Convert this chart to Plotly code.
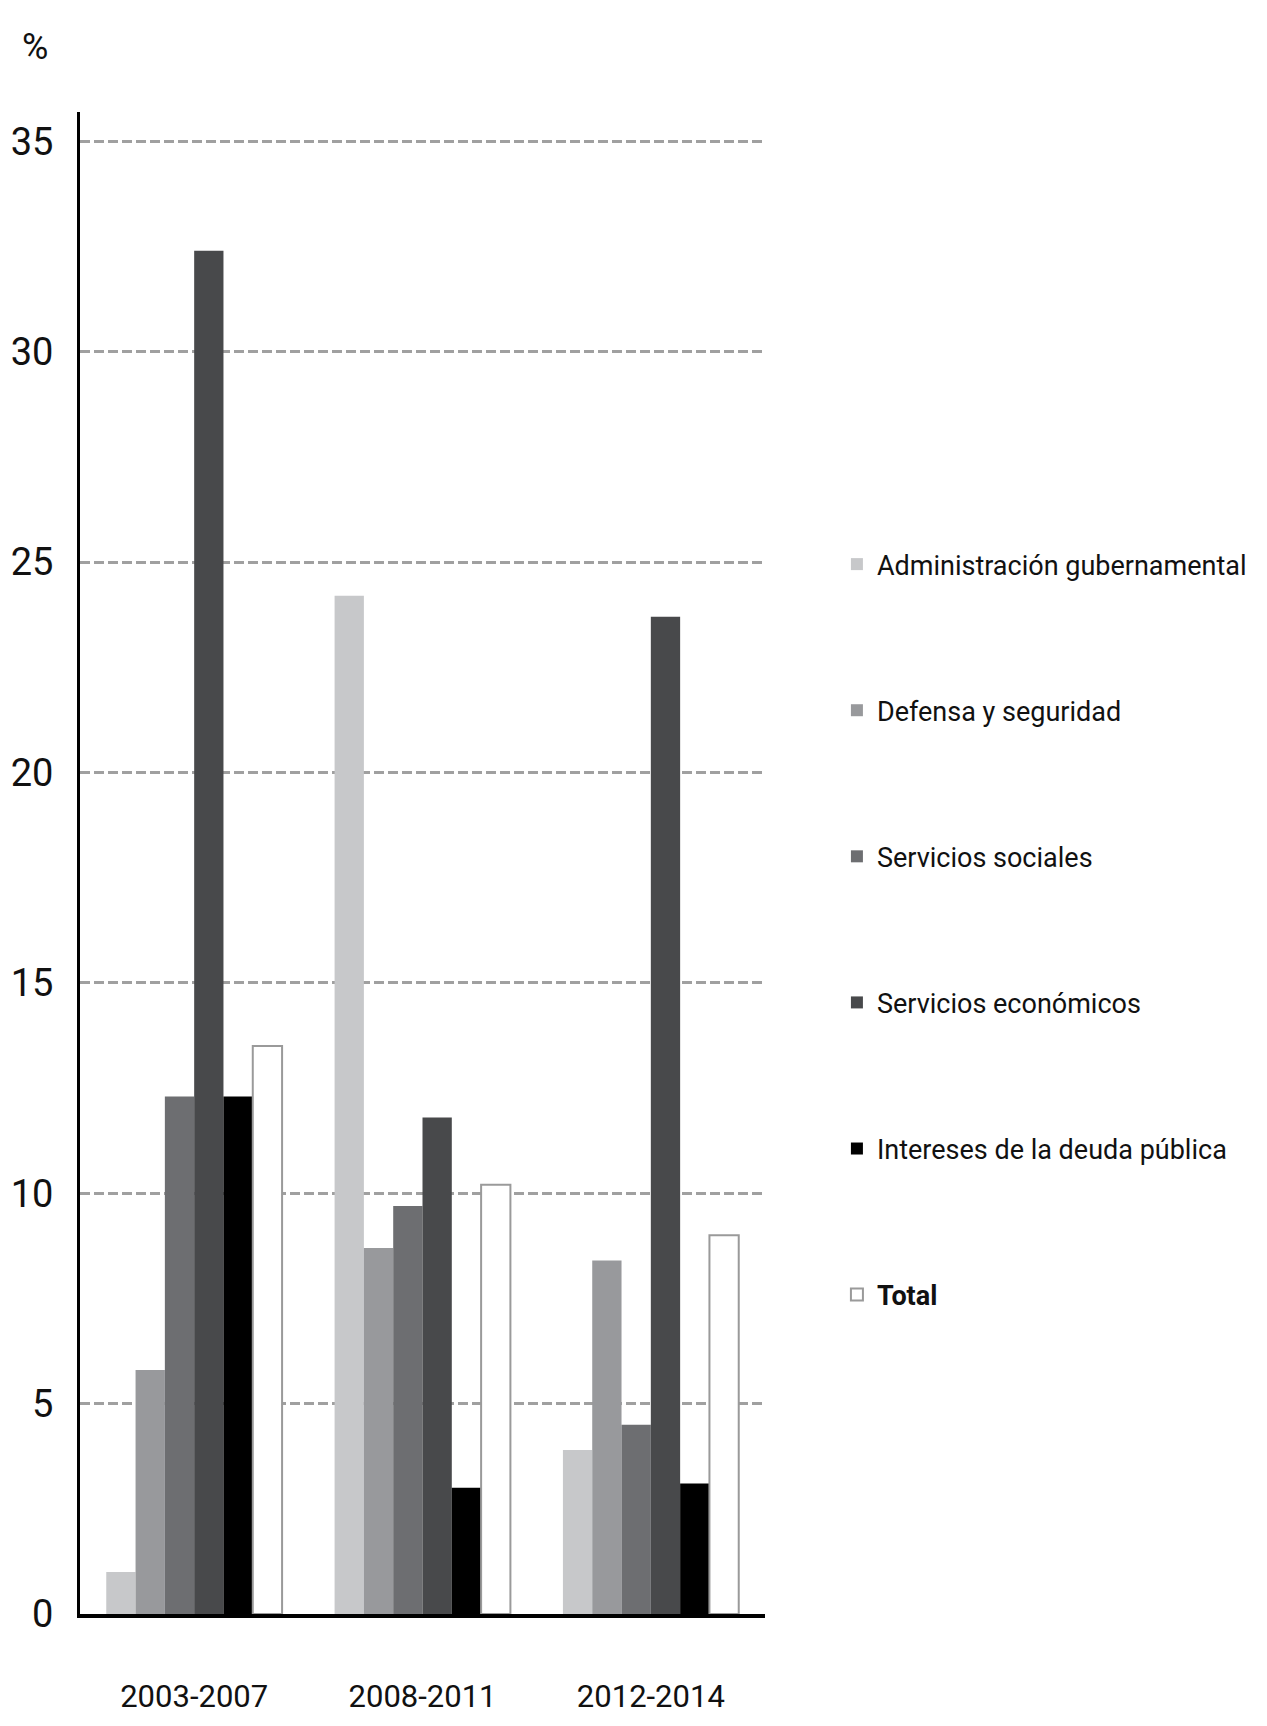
import plotly.graph_objects as go

periods = ["2003-2007", "2008-2011", "2012-2014"]
series_names = [
    "Administración gubernamental",
    "Defensa y seguridad",
    "Servicios sociales",
    "Servicios económicos",
    "Intereses de la deuda pública",
    "<b>Total</b>",
]
admin = [1.0, 24.2, 3.9]
defensa = [5.8, 8.7, 8.4]
sociales = [12.3, 9.7, 4.5]
economicos = [32.4, 11.8, 23.7]
intereses = [12.3, 3.0, 3.1]
total = [13.5, 10.2, 9.0]
y_ticks = [0, 5, 10, 15, 20, 25, 30, 35]

values = [admin, defensa, sociales, economicos, intereses, total]
fills = ["#c7c8ca", "#98999c", "#6d6e71", "#48494b", "#000000", "#ffffff"]
lines = ["#c7c8ca", "#98999c", "#6d6e71", "#48494b", "#000000", "#9a9a9a"]
line_w = [0, 0, 0, 0, 0, 2]

FONT = "Roboto, Liberation Sans, Arial, sans-serif"

fig = go.Figure()
for i, (name, vals) in enumerate(zip(series_names, values)):
    fig.add_trace(go.Bar(
        x=periods, y=vals, name=name, legendgroup=f"g{i}",
        marker=dict(color=fills[i], line=dict(color=lines[i], width=line_w[i])),
    ))

fig.update_layout(
    width=1267, height=1726, autosize=False,
    margin=dict(l=72, r=510, t=104, b=120),
    paper_bgcolor="white", plot_bgcolor="white",
    barmode="group", bargap=0.23, bargroupgap=0,
    font=dict(family=FONT, color="#111111"),
    legend=dict(
        x=1.105, xanchor="left", y=0.715, yanchor="top",
        font=dict(size=27, family=FONT, color="#111111"),
        traceorder="grouped", tracegroupgap=108,
        valign="middle", bgcolor="rgba(0,0,0,0)",
    ),
    annotations=[dict(
        text="%", xref="paper", yref="paper", x=-0.065, y=1.043,
        xanchor="center", yanchor="middle", showarrow=False,
        font=dict(size=36, family=FONT, color="#111111"),
    )],
)

fig.update_yaxes(
    range=[0, 35.7], tickvals=y_ticks, showgrid=True,
    gridcolor="#a0a0a0", gridwidth=3, griddash="10px,4px",
    showline=True, linecolor="black", linewidth=3, zeroline=False,
    ticks="", ticklabelstandoff=16, automargin=False,
    tickfont=dict(size=38, family=FONT, color="#111111"),
)
fig.update_xaxes(
    showline=True, linecolor="black", linewidth=4, showgrid=False,
    ticks="", ticklabelstandoff=52, automargin=False,
    tickfont=dict(size=31, family=FONT, color="#111111"),
)

fig.write_html("out.html")
